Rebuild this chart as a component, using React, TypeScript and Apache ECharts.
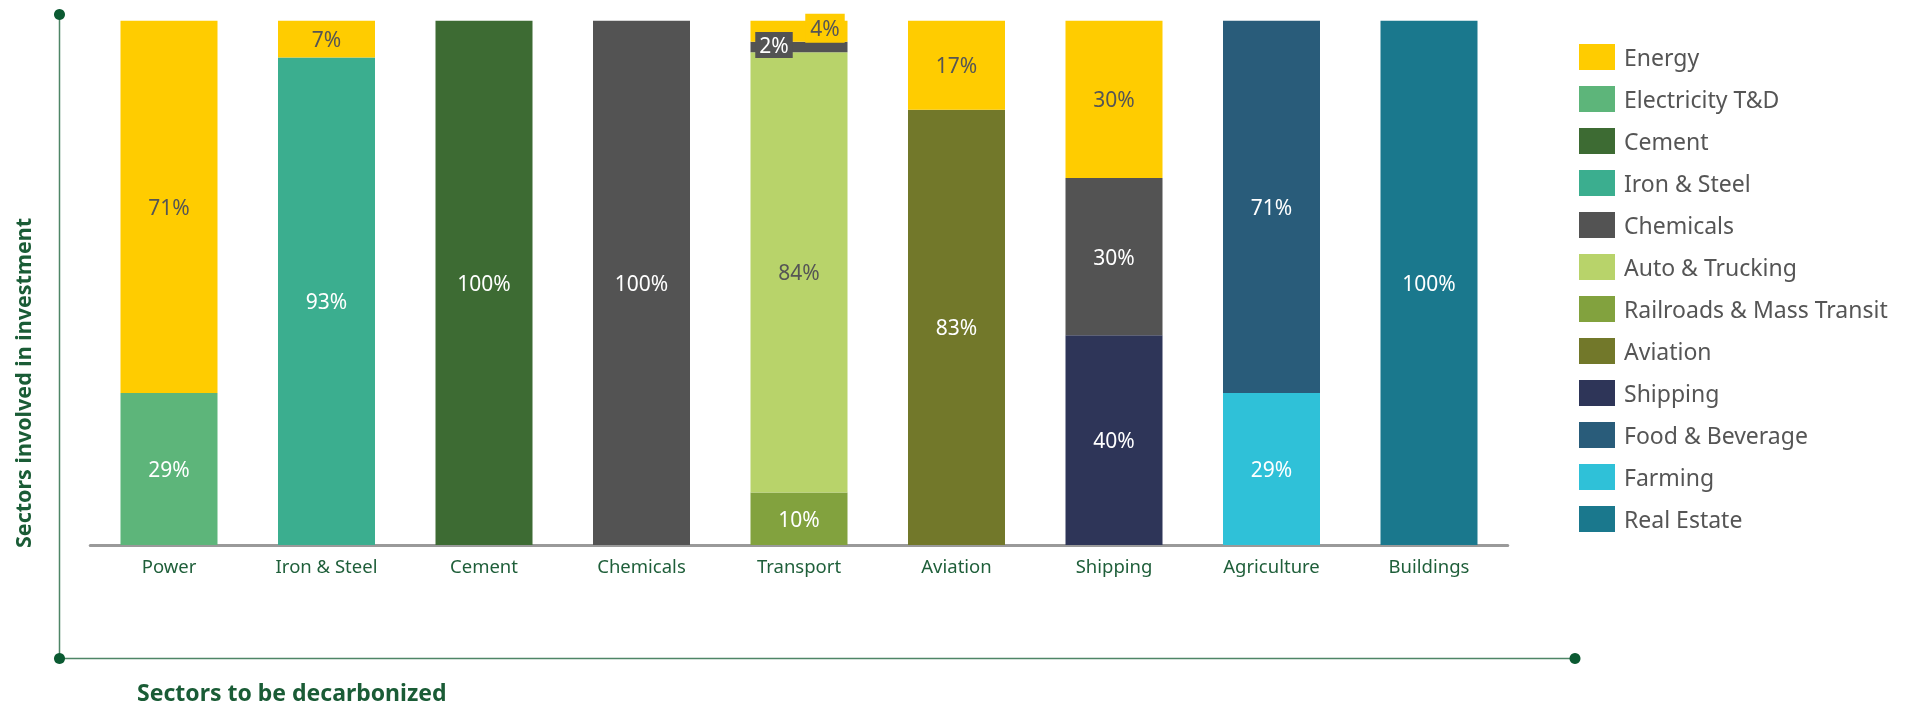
import React, { useEffect, useRef } from "react";
import * as echarts from "echarts";

const categories = ["Power", "Iron & Steel", "Cement", "Chemicals", "Transport", "Aviation", "Shipping", "Agriculture", "Buildings"];

const legendOrder = ["Energy", "Electricity T&D", "Cement", "Iron & Steel", "Chemicals", "Auto & Trucking", "Railroads & Mass Transit", "Aviation", "Shipping", "Food & Beverage", "Farming", "Real Estate"];

// values per series across categories (null = absent)
const electricityTD = [29, null, null, null, null, null, null, null, null];
const ironSteel = [null, 93, null, null, null, null, null, null, null];
const cement = [null, null, 100, null, null, null, null, null, null];
const railroads = [null, null, null, null, 10, null, null, null, null];
const autoTrucking = [null, null, null, null, 84, null, null, null, null];
const aviation = [null, null, null, null, null, 83, null, null, null];
const shipping = [null, null, null, null, null, null, 40, null, null];
const farming = [null, null, null, null, null, null, null, 29, null];
const foodBeverage = [null, null, null, null, null, null, null, 71, null];
const realEstate = [null, null, null, null, null, null, null, null, 100];
const chemicals = [null, null, null, 100, 2, null, 30, null, null];
const energy = [71, 7, null, null, 4, 17, 30, null, null];

const FONT = "'Noto Sans', 'Open Sans', sans-serif";
const DARK_TXT = "#555555";

// stacking order bottom -> top
const stackSeries: { name: string; data: (number | null)[]; color: string; labelColor: string }[] = [
  { name: "Electricity T&D", data: electricityTD, color: "#5DB57A", labelColor: "#ffffff" },
  { name: "Iron & Steel", data: ironSteel, color: "#3BAE8F", labelColor: "#ffffff" },
  { name: "Cement", data: cement, color: "#3D6B33", labelColor: "#ffffff" },
  { name: "Railroads & Mass Transit", data: railroads, color: "#82A23E", labelColor: "#ffffff" },
  { name: "Auto & Trucking", data: autoTrucking, color: "#B8D36A", labelColor: DARK_TXT },
  { name: "Aviation", data: aviation, color: "#72782A", labelColor: "#ffffff" },
  { name: "Shipping", data: shipping, color: "#2E3558", labelColor: "#ffffff" },
  { name: "Farming", data: farming, color: "#2FC1D8", labelColor: "#ffffff" },
  { name: "Food & Beverage", data: foodBeverage, color: "#295C7A", labelColor: "#ffffff" },
  { name: "Real Estate", data: realEstate, color: "#1A788D", labelColor: "#ffffff" },
  { name: "Chemicals", data: chemicals, color: "#535353", labelColor: "#ffffff" },
  { name: "Energy", data: energy, color: "#FFCC00", labelColor: DARK_TXT },
];

export default function App() {
  const ref = useRef<HTMLDivElement>(null);
  useEffect(() => {
    if (!ref.current) return;
    const chart = echarts.init(ref.current, undefined, { renderer: "svg" });

    const series = stackSeries.map((s) => ({
      name: s.name,
      type: "bar",
      stack: "total",
      barWidth: 97,
      itemStyle: { color: s.color },
      label: {
        show: true,
        position: "inside",
        color: s.labelColor,
        fontFamily: FONT,
        fontSize: 21,
        formatter: (p: any) => (p.value ? p.value + "%" : ""),
      },
      data: s.data.map((v, i) => {
        if (v == null) return null;
        if (categories[i] === "Transport" && s.name === "Chemicals") {
          return {
            value: v,
            label: {
              offset: [-25, -2],
              backgroundColor: "#535353",
              padding: [3, 4, 2, 4],
              color: "#ffffff",
            },
          };
        }
        if (categories[i] === "Transport" && s.name === "Energy") {
          return {
            value: v,
            label: {
              offset: [26, -3],
              backgroundColor: "#FFCC00",
              padding: [4, 5, 4, 5],
              color: DARK_TXT,
            },
          };
        }
        return v;
      }),
    }));

    const lineGreen = "#4E8566";
    const dotGreen = "#0B5A32";

    chart.setOption({
      animation: false,
      grid: { left: 90.25, top: 20.7, width: 1417.5, height: 524.3 },
      legend: {
        orient: "vertical",
        left: 1574,
        top: 39,
        itemWidth: 36,
        itemHeight: 26,
        itemGap: 16,
        icon: "rect",
        selectedMode: false,
        data: legendOrder,
        textStyle: { fontFamily: FONT, fontSize: 23, color: "#555555", padding: [0, 0, 0, 4] },
      },
      xAxis: {
        type: "category",
        data: categories,
        axisLine: { show: true, lineStyle: { color: "#9A9A9A", width: 3 } },
        axisTick: { show: false },
        axisLabel: { color: "#1F5F3A", fontFamily: FONT, fontSize: 18.5, margin: 11 },
      },
      yAxis: {
        type: "value",
        min: 0,
        max: 100,
        show: false,
        splitLine: { show: false },
      },
      graphic: [
        { type: "line", shape: { x1: 59.5, y1: 14.6, x2: 59.5, y2: 658.5 }, style: { stroke: lineGreen, lineWidth: 1.5 } },
        { type: "line", shape: { x1: 59.5, y1: 658.5, x2: 1575, y2: 658.5 }, style: { stroke: lineGreen, lineWidth: 1.5 } },
        { type: "circle", shape: { cx: 59.5, cy: 14.6, r: 5.5 }, style: { fill: dotGreen } },
        { type: "circle", shape: { cx: 59.5, cy: 658.5, r: 5.5 }, style: { fill: dotGreen } },
        { type: "circle", shape: { cx: 1575, cy: 658.5, r: 5.5 }, style: { fill: dotGreen } },
        {
          type: "text",
          x: 22,
          y: 383,
          rotation: Math.PI / 2,
          style: {
            text: "Sectors involved in investment",
            fill: "#1A5C36",
            font: `bold 21.5px ${FONT}`,
            textAlign: "center",
            textVerticalAlign: "middle",
          },
        },
        {
          type: "text",
          x: 137,
          y: 692,
          style: {
            text: "Sectors to be decarbonized",
            fill: "#1A5C36",
            font: `bold 23px ${FONT}`,
            textAlign: "left",
            textVerticalAlign: "middle",
          },
        },
      ],
      series,
    });
    return () => chart.dispose();
  }, []);
  return <div ref={ref} style={{ position: "fixed", left: 0, top: 0, width: 1905, height: 708 }} />;
}
